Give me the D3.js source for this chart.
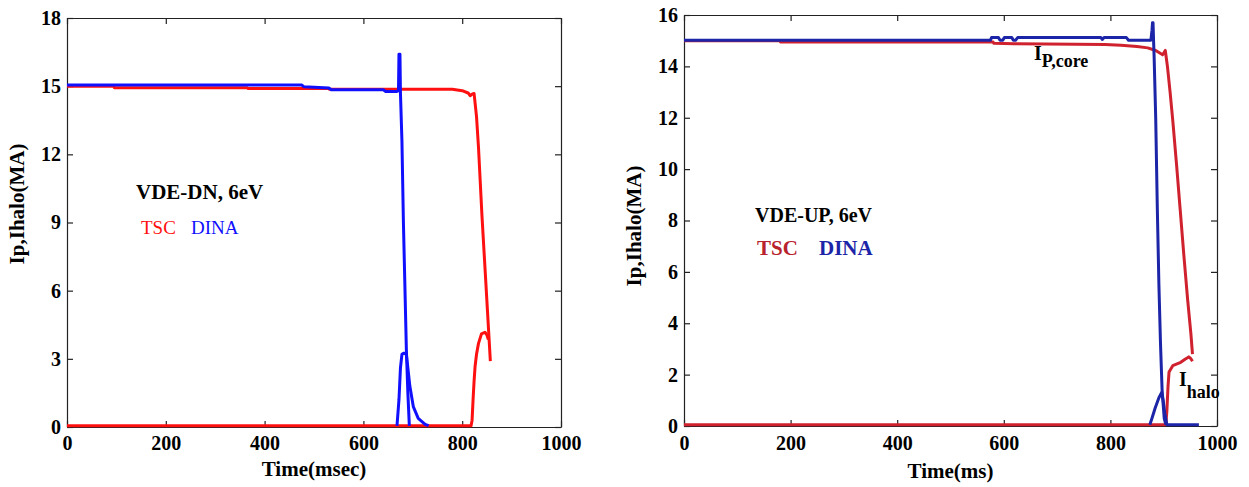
<!DOCTYPE html>
<html>
<head>
<meta charset="utf-8">
<script src="https://cdn.jsdelivr.net/npm/d3@7"></script>
<style>
  body { margin: 0; background: #fff; }
</style>
</head>
<body>
<svg id="chart" width="1249" height="487"></svg>
<script>
// ---- VDE-DN, 6eV (left panel) ----
const dnTscCoreTime = [0, 95, 96, 365, 366, 530, 531, 780, 800, 812, 816, 820, 824, 829, 833, 840, 848, 857];
const dnTscCore     = [15.0, 15.0, 14.93, 14.93, 14.9, 14.9, 14.86, 14.86, 14.8, 14.7, 14.58, 14.65, 14.68, 13.66, 12.3, 9.3, 6.3, 2.9];
const dnTscHaloTime = [0, 818, 820, 822, 824, 826, 829, 833, 839, 846, 850, 853];
const dnTscHalo     = [0.05, 0.05, 0.3, 1.2, 2.0, 2.65, 3.2, 3.68, 4.1, 4.17, 4.05, 3.85];
const dnDinaCoreTime = [0, 475, 480, 530, 535, 640, 645, 668, 671, 672, 674, 675, 678, 681, 684, 687, 690, 693];
const dnDinaCore     = [15.05, 15.05, 14.97, 14.92, 14.84, 14.84, 14.77, 14.77, 14.8, 16.4, 16.4, 14.7, 12.6, 9.0, 6.2, 3.4, 1.5, 0.05];
const dnDinaHaloTime = [668, 672, 675, 678, 682, 687, 690, 694, 701, 711, 725, 732];
const dnDinaHalo     = [0.05, 1.2, 2.6, 3.2, 3.25, 3.2, 2.6, 1.8, 0.9, 0.38, 0.12, 0.06];

// ---- VDE-UP, 6eV (right panel) ----
const upTscCoreTime = [0, 180, 181, 580, 581, 620, 790, 820, 850, 870, 885, 898, 903, 907, 912, 917, 924, 931, 938, 945, 951, 954];
const upTscCore     = [15.0, 15.0, 14.95, 14.95, 14.9, 14.88, 14.85, 14.82, 14.77, 14.72, 14.62, 14.45, 14.62, 14.0, 13.0, 11.9, 10.2, 8.4, 6.6, 4.9, 3.6, 2.8];
const upTscHaloTime = [0, 904, 906, 908, 910, 917, 925, 932, 940, 947, 951, 954];
const upTscHalo     = [0.05, 0.05, 0.6, 1.5, 2.1, 2.35, 2.42, 2.48, 2.6, 2.69, 2.62, 2.52];
const upDinaCoreTime = [0, 575, 577, 590, 593, 598, 601, 615, 618, 622, 626, 782, 785, 788, 830, 834, 876, 878, 879, 880, 881, 882, 885, 888, 891, 894, 897, 901, 904];
const upDinaCore     = [15.02, 15.02, 15.12, 15.12, 15.02, 15.02, 15.12, 15.12, 15.02, 15.02, 15.12, 15.12, 15.05, 15.12, 15.12, 15.02, 15.02, 15.4, 15.7, 15.7, 15.0, 14.4, 12.0, 8.5, 5.5, 3.2, 1.4, 0.3, 0.05];
const upDinaHaloTime = [874, 878, 884, 891, 896, 899, 902, 906, 966];
const upDinaHalo     = [0.05, 0.3, 0.7, 1.1, 1.3, 1.0, 0.5, 0.05, 0.05];

// ---- axis ticks ----
const timeTicks = [0, 200, 400, 600, 800, 1000];
const dnCurrentTicks = [0, 3, 6, 9, 12, 15, 18];
const upCurrentTicks = [0, 2, 4, 6, 8, 10, 12, 14, 16];

const SERIF = "'Liberation Serif', 'Times New Roman', Times, 'DejaVu Serif', serif";
const svg = d3.select("#chart");
const zip = (t, v) => t.map((d, i) => [d, v[i]]);

// serif text helper
function label(sel, opts) {
  const t = sel.append("text")
    .attr("x", opts.x).attr("y", opts.y)
    .style("font-family", SERIF)
    .style("font-size", opts.size + "px")
    .style("font-weight", opts.bold ? "bold" : "normal")
    .attr("fill", opts.color || "#000");
  if (opts.anchor) t.attr("text-anchor", opts.anchor);
  if (opts.transform) t.attr("transform", opts.transform);
  if (opts.text) t.text(opts.text);
  return t;
}

function panel(cfg) {
  const x = d3.scaleLinear().domain([0, 1000]).range([cfg.left, cfg.right]);
  const y = d3.scaleLinear().domain([0, cfg.yMax]).range([cfg.bottom, cfg.top]);
  const g = svg.append("g");
  const tick = 6;

  // frame with inward ticks on all four sides
  const axes = [
    [d3.axisBottom(x).tickValues(timeTicks).tickFormat(d3.format("d")).tickPadding(cfg.xPad), `translate(0,${cfg.bottom})`],
    [d3.axisTop(x).tickValues(timeTicks).tickFormat(""), `translate(0,${cfg.top})`],
    [d3.axisLeft(y).tickValues(cfg.yTicks).tickFormat(d3.format("d")).tickPadding(cfg.yPad), `translate(${cfg.left},0)`],
    [d3.axisRight(y).tickValues(cfg.yTicks).tickFormat(""), `translate(${cfg.right},0)`]
  ];
  axes.forEach(([ax, tr]) => {
    const a = g.append("g").attr("transform", tr)
      .call(ax.tickSizeInner(-tick).tickSizeOuter(0));
    a.attr("font-family", null).attr("font-size", null);
    a.select(".domain").attr("stroke", cfg.frame).attr("stroke-width", 1.2);
    a.selectAll(".tick line").attr("stroke", cfg.frame).attr("stroke-width", 1.2);
    a.selectAll("text")
      .attr("fill", "#000")
      .style("font-family", SERIF)
      .style("font-size", "20px")
      .style("font-weight", "bold");
  });

  const line = d3.line().x(d => x(d[0])).y(d => y(d[1]));
  cfg.series.forEach(s => {
    g.append("path")
      .datum(s.data)
      .attr("fill", "none")
      .attr("stroke", s.color)
      .attr("stroke-width", 3)
      .attr("stroke-linejoin", "round")
      .attr("stroke-linecap", "butt")
      .attr("d", line);
  });

  // axis titles
  label(g, { x: (cfg.left + cfg.right) / 2, y: cfg.xTitleY, size: 21, bold: true,
             anchor: "middle", text: cfg.xTitle });
  label(g, { x: 0, y: 0, size: 21, bold: true, anchor: "middle",
             transform: `translate(${cfg.yTitleX},${cfg.yTitleCy}) rotate(-90)`,
             text: "Ip,Ihalo(MA)" });

  return { g, x, y };
}

// ---- left: VDE-DN ----
const redDN = "#ff1010", blueDN = "#1010ff";
const left = panel({
  left: 67, right: 561, top: 18, bottom: 427, yMax: 18,
  yTicks: dnCurrentTicks, xPad: 9, yPad: 6, frame: "#222",
  xTitle: "Time(msec)", xTitleY: 476, yTitleX: 24, yTitleCy: 204,
  series: [
    { data: zip(dnTscHaloTime, dnTscHalo), color: redDN },
    { data: zip(dnTscCoreTime, dnTscCore), color: redDN },
    { data: zip(dnDinaHaloTime, dnDinaHalo), color: blueDN },
    { data: zip(dnDinaCoreTime, dnDinaCore), color: blueDN }
  ]
});
label(left.g, { x: 136, y: 199, size: 21, bold: true, text: "VDE-DN, 6eV" });
label(left.g, { x: 141, y: 234, size: 19, color: redDN, text: "TSC" });
label(left.g, { x: 191, y: 234, size: 19, color: blueDN, text: "DINA" });

// ---- right: VDE-UP ----
const redUP = "#d0222e", blueUP = "#1c24a8";
const right = panel({
  left: 684, right: 1217, top: 15, bottom: 426, yMax: 16,
  yTicks: upCurrentTicks, xPad: 10, yPad: 6, frame: "#222",
  xTitle: "Time(ms)", xTitleY: 478, yTitleX: 641, yTitleCy: 226,
  series: [
    { data: zip(upTscHaloTime, upTscHalo), color: redUP },
    { data: zip(upTscCoreTime, upTscCore), color: redUP },
    { data: zip(upDinaHaloTime, upDinaHalo), color: blueUP },
    { data: zip(upDinaCoreTime, upDinaCore), color: blueUP }
  ]
});
label(right.g, { x: 755, y: 222, size: 20, bold: true, text: "VDE-UP, 6eV" });
label(right.g, { x: 757, y: 255, size: 21, bold: true, color: "#b8222c", text: "TSC" });
label(right.g, { x: 819, y: 255, size: 21, bold: true, color: blueUP, text: "DINA" });

// curve annotations
const ipCore = label(right.g, { x: 1034, y: 60, size: 20, bold: true });
ipCore.append("tspan").text("I");
ipCore.append("tspan").attr("dy", 7).style("font-size", "18px").text("P,core");
const ihalo = label(right.g, { x: 1179, y: 386, size: 20, bold: true });
ihalo.append("tspan").text("I");
ihalo.append("tspan").attr("dy", 12).style("font-size", "18px").text("halo");
</script>
</body>
</html>
